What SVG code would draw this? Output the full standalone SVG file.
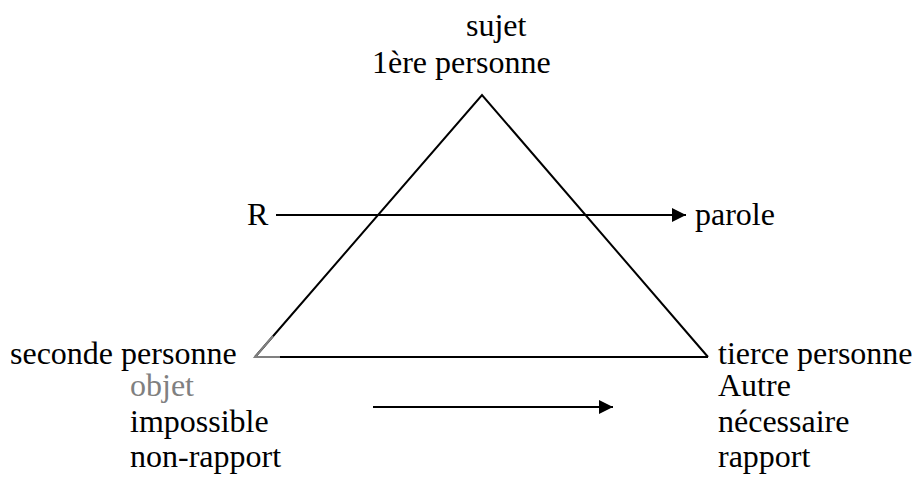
<svg xmlns="http://www.w3.org/2000/svg" width="915" height="478" viewBox="0 0 915 478" font-family="Liberation Serif" font-size="32">
<defs>
<marker id="ah2" markerWidth="14" markerHeight="14" refX="14" refY="7" orient="auto" markerUnits="userSpaceOnUse" viewBox="0 0 14 14">
<path d="M0,0 L14,7 L0,14 z" fill="#000"/>
</marker>
</defs>
<g id="triangle" stroke-width="2" fill="none">
<polyline stroke="#000" points="255,357 482,95 708,357"/>
<line stroke="#000" x1="280" y1="357" x2="708" y2="357"/>
<polyline stroke="#808080" points="273,336 255,357 280,357"/>
</g>
<g id="connectors" stroke="#000" stroke-width="2" fill="none">
<line x1="276" y1="215" x2="686" y2="215" marker-end="url(#ah2)"/>
<line x1="373" y1="407" x2="613" y2="407" marker-end="url(#ah2)"/>
</g>
<text id="sujet" x="466" y="36" font-family="Liberation Serif">sujet</text>
<text id="premiere" x="372" y="73" font-family="Liberation Serif">1&#232;re personne</text>
<text id="R" x="247" y="225" font-family="Liberation Serif">R</text>
<text id="parole" x="695" y="225" font-family="Liberation Serif">parole</text>
<text id="seconde" x="10" y="364" font-family="Liberation Serif">seconde personne</text>
<text id="objet" x="130" y="396" font-family="Liberation Serif" fill="#808080">objet</text>
<text id="impossible" x="130" y="432" font-family="Liberation Serif">impossible</text>
<text id="nonrapport" x="130" y="467" font-family="Liberation Serif">non-rapport</text>
<text id="tierce" x="718" y="364" font-family="Liberation Serif">tierce personne</text>
<text id="autre" x="718" y="396" font-family="Liberation Serif">Autre</text>
<text id="necessaire" x="718" y="432" font-family="Liberation Serif">n&#233;cessaire</text>
<text id="rapport" x="718" y="467" font-family="Liberation Serif">rapport</text>
</svg>
